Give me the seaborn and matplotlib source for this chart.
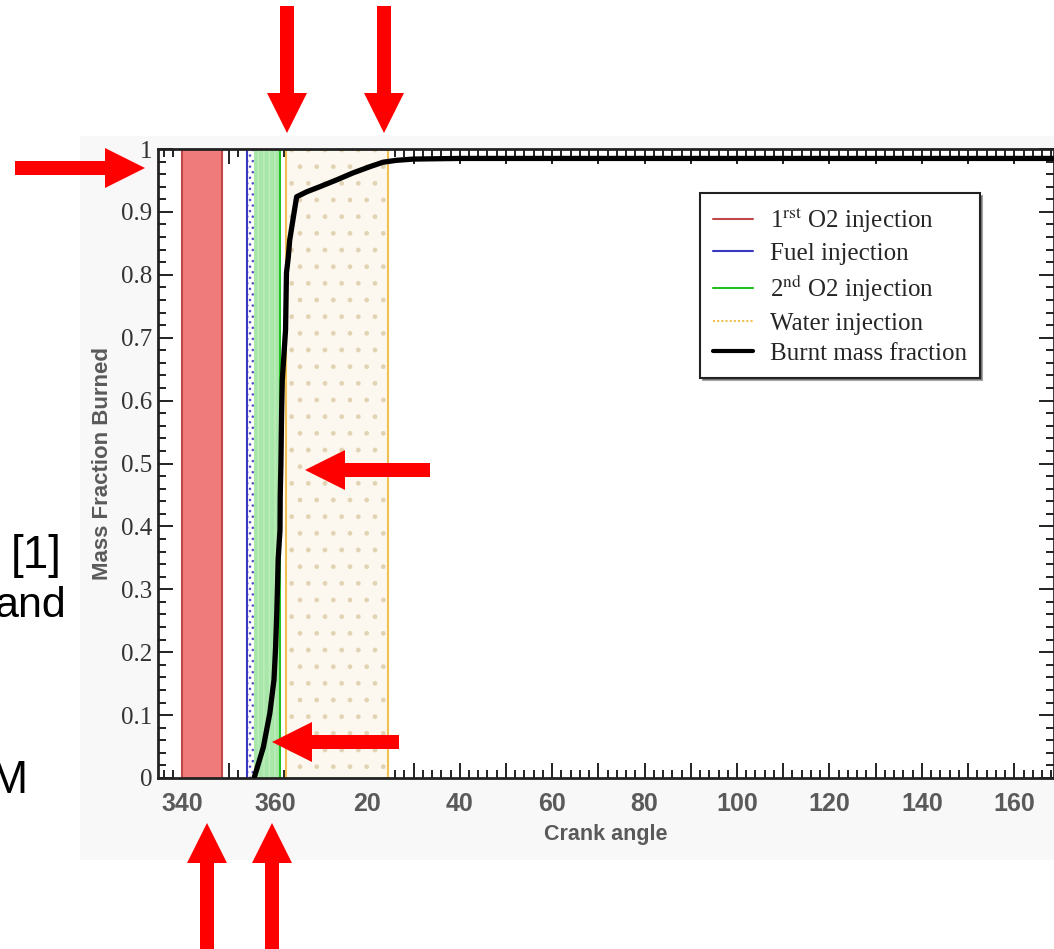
import numpy as np
import pandas as pd
import matplotlib
matplotlib.use('Agg')
import matplotlib.pyplot as plt
import seaborn as sns
from matplotlib.lines import Line2D
from matplotlib.patches import FancyArrow, Rectangle

# burnt mass fraction curve (crank angle in deg after TDC, 360 = 0)
crank_angle = [-4.5, -2.5, -1.1, -0.2, 0.15, 0.4, 0.6, 0.7, 1.1, 1.15, 1.3, 1.45, 1.6,
               2.3, 2.5, 2.9, 3.2, 4.0, 4.7, 6.9, 9.7, 13.4, 16.9, 20.6, 23.4, 26.3,
               30.0, 40.0, 80.0, 120.0, 170.0]
mass_burned = [0.0, 0.049, 0.103, 0.156, 0.208, 0.262, 0.315, 0.347, 0.394, 0.447, 0.5,
               0.58, 0.633, 0.712, 0.803, 0.828, 0.855, 0.892, 0.924, 0.932, 0.94, 0.951,
               0.962, 0.972, 0.979, 0.982, 0.984, 0.985, 0.985, 0.985, 0.985]

# injection windows
band_names = ['1st O2', 'Fuel', '2nd O2', 'Water']
band_start = [-20.0, -6.0, -4.6, 2.3]
band_end = [-11.5, -4.6, 1.2, 24.5]

legend_labels = [r'1$^{\mathrm{rst}}$ O2 injection', 'Fuel injection',
                 r'2$^{\mathrm{nd}}$ O2 injection', 'Water injection', 'Burnt mass fraction']

x_ticks = [-20, 0, 20, 40, 60, 80, 100, 120, 140, 160]
x_tick_labels = ['340', '360', '20', '40', '60', '80', '100', '120', '140', '160']
y_ticks = [0, 0.1, 0.2, 0.3, 0.4, 0.5, 0.6, 0.7, 0.8, 0.9, 1.0]
y_tick_labels = ['0', '0.1', '0.2', '0.3', '0.4', '0.5', '0.6', '0.7', '0.8', '0.9', '1']

sns.set_style('ticks')
plt.rcParams['font.family'] = ['Liberation Sans', 'DejaVu Sans']
plt.rcParams['mathtext.fontset'] = 'stix'
plt.rcParams['hatch.linewidth'] = 1.0

fill_col = {'1st O2': '#f07b7b', 'Fuel': '#ffffff', '2nd O2': '#a9e6a9', 'Water': '#fdf8ef'}
hatch_col = {'1st O2': '#f29a9a', 'Fuel': '#5050c8', '2nd O2': '#bdeebd', 'Water': '#e2d3b4'}
hatch = {'1st O2': '', 'Fuel': '...', '2nd O2': '|||', 'Water': '.'}
line_col = {'1st O2': '#c04848', 'Fuel': '#3838c0', '2nd O2': '#22c022', 'Water': '#f0c050'}

W, H = 1054, 949
fig = plt.figure(figsize=(W / 100, H / 100), dpi=100)
fig.patch.set_facecolor('white')

# overlay in pixel coordinates for the slide decorations
over = fig.add_axes([0, 0, 1, 1], zorder=5)
over.set_xlim(0, W)
over.set_ylim(H, 0)
over.axis('off')
bg = fig.add_axes([0, 0, 1, 1], zorder=0)
bg.set_xlim(0, W)
bg.set_ylim(H, 0)
bg.axis('off')
bg.add_patch(Rectangle((80, 136), W - 80, 724, color='#f8f8f8', lw=0))

ax = fig.add_axes([158 / W, 171 / H, (W - 158) / W, 629 / H], zorder=2)
ax.set_facecolor('white')

for name, a, b in zip(band_names, band_start, band_end):
    ax.axvspan(a, b, facecolor=fill_col[name], edgecolor=hatch_col[name],
               hatch=hatch[name], lw=0, zorder=1)
    if name != '2nd O2':
        ax.axvline(a, color=line_col[name], lw=1.5, zorder=2)
    if name in ('1st O2', '2nd O2', 'Water'):
        ax.axvline(b, color=line_col[name], lw=1.5, zorder=2)

df = pd.DataFrame({'angle': crank_angle, 'mfb': mass_burned})
sns.lineplot(data=df, x='angle', y='mfb', ax=ax, color='black', lw=3.8,
             estimator=None, sort=False, zorder=4)

ax.set_xlim(-25.3, 168.6)
ax.set_ylim(0, 1)
ax.set_xticks(list(range(-20, 170, 10)))
ax.set_xticklabels([x_tick_labels[x_ticks.index(v)] if v in x_ticks else ''
                    for v in range(-20, 170, 10)])
ax.set_xticks(np.arange(-24, 170, 2), minor=True)
ax.set_yticks(y_ticks)
ax.set_yticklabels(y_tick_labels)
ax.set_yticks(np.arange(0, 1.001, 0.02), minor=True)
ax.tick_params(which='both', direction='in', top=True, right=True, width=1.4, color='#222222')
ax.tick_params(which='major', length=11)
ax.tick_params(which='minor', length=5.5)
ax.tick_params(axis='x', pad=10, labelsize=18, labelcolor='#5a5a5a')
ax.tick_params(axis='y', pad=4, labelsize=18, labelcolor='#333333')
for lab in ax.get_xticklabels():
    lab.set_fontweight('bold')
for lab in ax.get_yticklabels():
    lab.set_fontfamily('Liberation Serif')
for sp in ax.spines.values():
    sp.set_linewidth(2)
    sp.set_color('#222222')

ax.set_xlabel('Crank angle', fontsize=15.5, fontweight='bold', color='#5a5a5a', labelpad=6)
ax.set_ylabel('Mass Fraction Burned', fontsize=16, fontweight='bold', color='#5a5a5a', labelpad=6)

handles = [Line2D([], [], color=line_col['1st O2'], lw=1.5),
           Line2D([], [], color=line_col['Fuel'], lw=1.5),
           Line2D([], [], color=line_col['2nd O2'], lw=1.5),
           Line2D([], [], color=line_col['Water'], lw=1.5, ls=(0, (1, 1))),
           Line2D([], [], color='black', lw=3)]
leg = ax.legend(handles, legend_labels, loc='upper left',
                bbox_to_anchor=(700 / W, 1 - 193 / H), bbox_transform=fig.transFigure,
                borderaxespad=0,
                prop={'family': 'Liberation Serif', 'size': 18},
                frameon=True, fancybox=False, shadow=True, framealpha=1,
                borderpad=0.5, labelspacing=0.32, handlelength=1.6, handletextpad=0.7)
leg.get_frame().set_edgecolor('#222222')
leg.get_frame().set_linewidth(1.5)
leg.set_zorder(6)
# the original legend box leaves extra room on its right side
frame = leg.get_frame()
fig.canvas.draw()
frame.set_width(frame.get_width() + 30)

# red arrows
arrows = [(287, 6, 287, 133), (384, 6, 384, 133), (15, 168, 145, 168),
          (430, 470, 305, 470), (399, 742, 272, 742), (207, 949, 207, 823),
          (272, 949, 272, 823)]
for x0, y0, x1, y1 in arrows:
    over.add_patch(FancyArrow(x0, y0, x1 - x0, y1 - y0, width=14, head_width=40,
                              head_length=40, length_includes_head=True,
                              color='#ff0000', lw=0))

# fragments of the slide text
over.text(62, 556, '[1]', fontsize=33, ha='right', va='center', color='black')
over.text(66, 606, 'and', fontsize=31, ha='right', va='center', color='black')
over.text(27, 781, 'M', fontsize=33, ha='right', va='center', color='black')

fig.savefig('out.png', dpi=100)
